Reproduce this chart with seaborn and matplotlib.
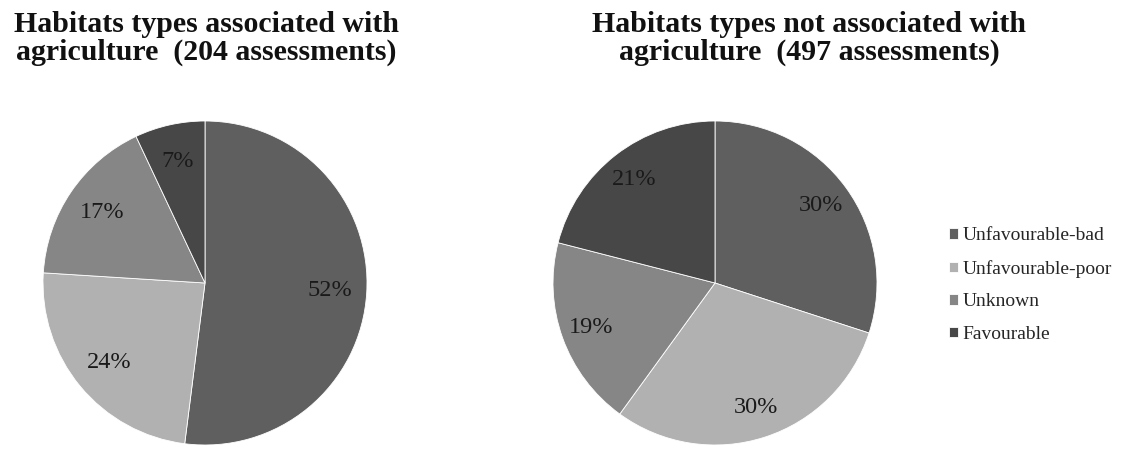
import matplotlib
matplotlib.use("Agg")
import matplotlib.pyplot as plt
import seaborn as sns

# Conservation status shares (%) of habitat assessments
statuses = ["Unfavourable-bad", "Unfavourable-poor", "Unknown", "Favourable"]
agri_values = [52, 24, 17, 7]
non_agri_values = [30, 30, 19, 21]
agri_title = ["Habitats types associated with", "agriculture  (204 assessments)"]
non_agri_title = ["Habitats types not associated with", "agriculture  (497 assessments)"]

sns.set_style("white")
plt.rcParams["font.family"] = ["Liberation Serif", "DejaVu Serif"]

palette = sns.color_palette(["#5f5f5f", "#b1b1b1", "#868686", "#474747"])

W, H = 1123, 449
fig = plt.figure(figsize=(W / 100, H / 100), dpi=100)
fig.patch.set_facecolor("white")


def px_axes(x0, y0, x1, y1):
    return fig.add_axes([x0 / W, 1 - y1 / H, (x1 - x0) / W, (y1 - y0) / H])


def draw_pie(ax, values, pctdist):
    wedges, _, autotexts = ax.pie(
        values,
        colors=palette,
        startangle=90,
        counterclock=False,
        autopct=lambda p: f"{p:.0f}%",
        pctdistance=pctdist,
        wedgeprops=dict(edgecolor="white", linewidth=0.6),
        textprops=dict(fontsize=17.5, color="#1a1a1a"),
    )
    ax.set_xlim(-1, 1)
    ax.set_ylim(-1, 1)
    ax.set_aspect("equal")
    ax.axis("off")
    return wedges


ax_left = px_axes(43, 121, 367, 445)
wedges = draw_pie(ax_left, agri_values, 0.77)
ax_right = px_axes(553, 121, 877, 445)
draw_pie(ax_right, non_agri_values, 0.81)

# Two-line bold titles
for cx, lines in ((206, agri_title), (809, non_agri_title)):
    for base_y, line in zip((32, 60), lines):
        fig.text(cx / W, 1 - base_y / H, line, ha="center", va="baseline",
                 fontsize=21.5, fontweight="bold", color="#111111")

fig.legend(
    wedges, statuses,
    loc="center left",
    bbox_to_anchor=(949 / W, 1 - 285 / H),
    frameon=False,
    fontsize=14,
    handlelength=0.45,
    handleheight=0.45,
    handletextpad=0.25,
    labelspacing=0.8,
    borderaxespad=0,
    borderpad=0,
)

fig.savefig("out.png", dpi=100, facecolor="white")
